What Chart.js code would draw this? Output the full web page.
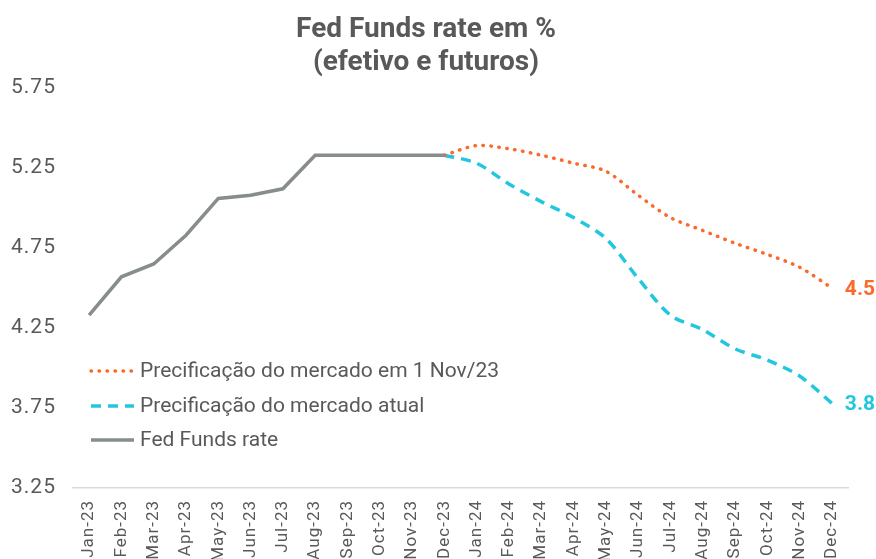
<!DOCTYPE html>
<html>
<head>
<meta charset="utf-8">
<script src="https://cdn.jsdelivr.net/npm/chart.js@4"></script>
<style>
  html, body { margin: 0; padding: 0; background: #fff; overflow: hidden; }
  #wrap { width: 876px; height: 559px; }
</style>
</head>
<body>
<div id="wrap"><canvas id="fed" width="876" height="559"></canvas></div>
<script>
const MONTHS = ['Jan-23', 'Feb-23', 'Mar-23', 'Apr-23', 'May-23', 'Jun-23', 'Jul-23', 'Aug-23', 'Sep-23', 'Oct-23', 'Nov-23', 'Dec-23',
  'Jan-24', 'Feb-24', 'Mar-24', 'Apr-24', 'May-24', 'Jun-24', 'Jul-24', 'Aug-24', 'Sep-24', 'Oct-24', 'Nov-24', 'Dec-24'];

const EFETIVO = [4.33, 4.57, 4.65, 4.83, 5.06, 5.08, 5.12, 5.33, 5.33, 5.33, 5.33, 5.33,
  null, null, null, null, null, null, null, null, null, null, null, null];
const NOV23 = [null, null, null, null, null, null, null, null, null, null, null, 5.33,
  5.39, 5.37, 5.33, 5.28, 5.23, 5.08, 4.94, 4.86, 4.78, 4.71, 4.63, 4.50];
const ATUAL = [null, null, null, null, null, null, null, null, null, null, null, 5.33,
  5.28, 5.15, 5.04, 4.94, 4.81, 4.56, 4.33, 4.24, 4.12, 4.05, 3.95, 3.78];

const Y_TICKS = [3.25, 3.75, 4.25, 4.75, 5.25, 5.75];
const END_LABELS = ['4.5', '3.8'];

const GRAY = '#878c8c';
const ORANGE = '#fa6a2c';
const CYAN = '#22c7df';
const TEXT = '#595959';
const FONT = "Roboto, 'Open Sans', sans-serif";

// slightly spaced axis labels, like the original
const spacing = {
  id: 'spacing',
  beforeDraw(chart) { chart.ctx.letterSpacing = '1px'; },
  beforeDatasetsDraw(chart) { chart.ctx.letterSpacing = '0px'; }
};

// title, legend box and end-of-line labels
const decor = {
  id: 'decor',
  afterDraw(chart) {
    const ctx = chart.ctx;
    ctx.save();
    ctx.letterSpacing = '0px';
    ctx.fillStyle = TEXT;
    ctx.font = 'bold 28px ' + FONT;
    ctx.textAlign = 'center';
    ctx.textBaseline = 'middle';
    ctx.fillText('Fed Funds rate em %', 426, 30);
    ctx.fillText('(efetivo e futuros)', 426, 63);

    // legend
    const rows = [1, 2, 0];
    const ys = [371, 406, 440];
    rows.forEach((di, i) => {
      const ds = chart.data.datasets[di];
      ctx.beginPath();
      ctx.strokeStyle = ds.borderColor;
      ctx.lineWidth = ds.borderWidth;
      ctx.lineCap = ds.borderCapStyle || 'butt';
      ctx.setLineDash(ds.borderDash || []);
      ctx.moveTo(91, ys[i]);
      ctx.lineTo(134, ys[i]);
      ctx.stroke();
      ctx.setLineDash([]);
      ctx.fillStyle = TEXT;
      ctx.font = '21px ' + FONT;
      ctx.textAlign = 'left';
      ctx.fillText(ds.label, 140, ys[i] + 1);
    });

    // end labels
    [1, 2].forEach((di, i) => {
      const meta = chart.getDatasetMeta(di);
      const pt = meta.data[meta.data.length - 1];
      ctx.fillStyle = chart.data.datasets[di].borderColor;
      ctx.font = 'bold 21px ' + FONT;
      ctx.textAlign = 'left';
      ctx.fillText(END_LABELS[i], pt.x + 13, pt.y + 2);
    });
    ctx.restore();
  }
};

new Chart(document.getElementById('fed'), {
  type: 'line',
  data: {
    labels: MONTHS,
    datasets: [
      { label: 'Fed Funds rate', data: EFETIVO, borderColor: GRAY, borderWidth: 3.5, pointRadius: 0, tension: 0, spanGaps: false },
      { label: 'Precificação do mercado em 1 Nov/23', data: NOV23, borderColor: ORANGE, borderWidth: 3.5,
        borderDash: [0.5, 7.5], borderCapStyle: 'round', pointRadius: 0, tension: 0.3 },
      { label: 'Precificação do mercado atual', data: ATUAL, borderColor: CYAN, borderWidth: 3.5,
        borderDash: [10, 7], pointRadius: 0, tension: 0.3 }
    ]
  },
  options: {
    responsive: false,
    devicePixelRatio: 1,
    animation: false,
    layout: { padding: { top: 88, right: 28, left: 11, bottom: 0 } },
    plugins: {
      legend: { display: false },
      title: { display: false },
      tooltip: { enabled: false }
    },
    scales: {
      x: {
        offset: true,
        grid: { display: false, drawTicks: false },
        border: { display: true, color: '#d9d9d9', width: 1.5 },
        ticks: {
          color: TEXT, font: { family: FONT, size: 17 },
          minRotation: 90, maxRotation: 90, autoSkip: false, padding: 12
        },
        afterFit(scale) { scale.height = 71; }
      },
      y: {
        min: 3.25, max: 5.75,
        afterBuildTicks(scale) { scale.ticks = Y_TICKS.map(v => ({ value: v })); },
        grid: { display: false, drawTicks: false },
        border: { display: false },
        ticks: {
          color: TEXT, font: { family: FONT, size: 21 },
          crossAlign: 'far', padding: 10,
          callback: v => v.toFixed(2)
        },
        afterFit(scale) { scale.width = 62; }
      }
    }
  },
  plugins: [spacing, decor]
});
</script>
</body>
</html>
